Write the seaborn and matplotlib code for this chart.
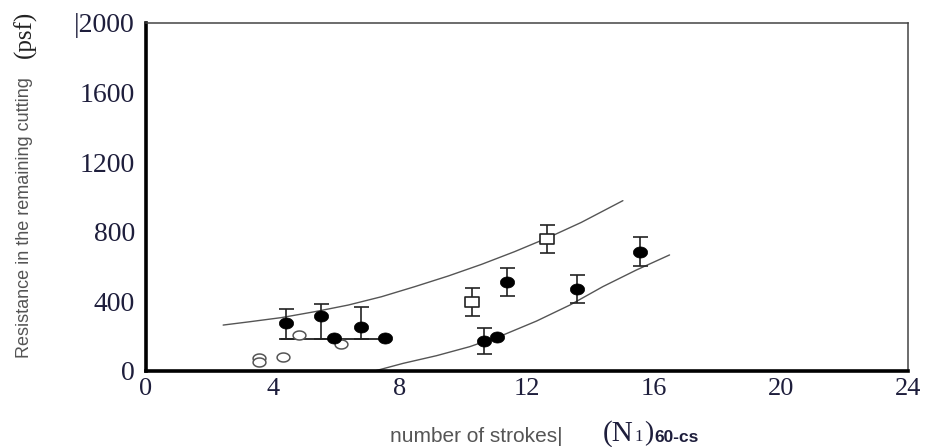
import numpy as np
import pandas as pd
import matplotlib
matplotlib.use("Agg")
import matplotlib.pyplot as plt
from matplotlib.path import Path
import seaborn as sns

# Filled circles with scatter bars
solid_x = [4.41, 5.51, 5.92, 6.77, 7.52, 10.64, 11.07, 11.36, 13.59, 15.55]
solid_y = [276, 316, 190, 253, 190, 172, 197, 513, 471, 686]
solid_lo = [184, 184, np.nan, 184, np.nan, 98, np.nan, 433, 391, 605]
solid_hi = [356, 387, np.nan, 368, np.nan, 249, np.nan, 592, 552, 768]

# Open squares with scatter bars
square_x = [10.28, 12.63]
square_y = [395, 757]
square_lo = [316, 680]
square_hi = [479, 841]

# Open circles
open_x = [3.56, 3.56, 4.32, 4.82, 6.14]
open_y = [77, 50, 82, 207, 155]

# Baseline joining the lower ends of the first bars
base_x = [4.25, 7.5]
base_y = [184, 184]

# Bounding curves
upper_x = [2.43, 3.22, 4.27, 5.32, 6.37, 7.42, 8.47, 9.52, 10.57, 11.61,
           12.66, 13.71, 15.02]
upper_y = [264, 282, 307, 341, 379, 427, 485, 546, 613, 686, 766, 854, 979]
lower_x = [7.2, 8.10, 9.15, 10.20, 11.25, 12.30, 13.35, 14.39, 15.44, 16.49]
lower_y = [0, 44, 88, 140, 207, 287, 379, 485, 580, 667]

x_ticks = [0, 4, 8, 12, 16, 20, 24]
y_ticks = [0, 400, 800, 1200, 1600, 2000]
y_ticklabels = ["0", "400", "800", "1200", "1600", "|2000"]


def ellipse_marker(ratio):
    t = np.linspace(0, 2 * np.pi, 64)
    verts = np.column_stack([np.cos(t), ratio * np.sin(t)])
    return Path(verts, closed=True)


def rect_marker(ratio):
    verts = [(-1, -ratio), (1, -ratio), (1, ratio), (-1, ratio), (-1, -ratio)]
    codes = [Path.MOVETO, Path.LINETO, Path.LINETO, Path.LINETO, Path.CLOSEPOLY]
    return Path(verts, codes)


sns.set_theme(style="white")
plt.rcParams["font.family"] = ["Liberation Serif", "DejaVu Serif"]

fig = plt.figure(figsize=(9.38, 4.47), dpi=100)
ax = fig.add_axes([146 / 938, 76 / 447, 762 / 938, 348 / 447])

curve_color = "#555555"
up = pd.DataFrame({"x": upper_x, "y": upper_y})
lo = pd.DataFrame({"x": lower_x, "y": lower_y})
sns.lineplot(data=up, x="x", y="y", ax=ax, color=curve_color, lw=1.0,
             sort=False, estimator=None, zorder=2)
sns.lineplot(data=lo, x="x", y="y", ax=ax, color=curve_color, lw=1.0,
             sort=False, estimator=None, zorder=2)
ax.plot(base_x, base_y, color="#222222", lw=1.3, zorder=3)

# Scatter bars
sy = np.array(solid_y, float)
slo = np.array(solid_lo, float)
shi = np.array(solid_hi, float)
m = ~np.isnan(slo)
ax.errorbar(np.array(solid_x)[m], sy[m], yerr=[sy[m] - slo[m], shi[m] - sy[m]],
            fmt="none", ecolor="#222222", elinewidth=1.2, capsize=5.4,
            capthick=1.2, zorder=3)
qy = np.array(square_y, float)
ax.errorbar(square_x, qy, yerr=[qy - np.array(square_lo), np.array(square_hi) - qy],
            fmt="none", ecolor="#222222", elinewidth=1.2, capsize=5.4,
            capthick=1.2, zorder=3)

sns.scatterplot(x=open_x, y=open_y, ax=ax, marker=ellipse_marker(0.7), s=85,
                facecolor="white", edgecolor="#555555", linewidth=1.1, zorder=4)
sns.scatterplot(x=square_x, y=square_y, ax=ax, marker=rect_marker(0.67), s=110,
                facecolor="white", edgecolor="#222222", linewidth=1.2, zorder=5)
sns.scatterplot(x=solid_x, y=solid_y, ax=ax, marker=ellipse_marker(0.78), s=105,
                color="black", edgecolor="black", linewidth=0.5, zorder=5)

ax.set_xlim(0, 24)
ax.set_ylim(0, 2000)
ax.set_xticks(x_ticks)
ax.set_yticks(y_ticks)
ax.set_yticklabels(y_ticklabels)
ax.set_xlabel("")
ax.set_ylabel("")
tick_color = "#1e1e3c"
ax.tick_params(axis="both", length=0, labelcolor=tick_color)
ax.tick_params(axis="x", pad=5, labelsize=19)
ax.tick_params(axis="y", pad=8, labelsize=20)

for side in ["left", "bottom"]:
    ax.spines[side].set_color("black")
    ax.spines[side].set_linewidth(2.6)
for side in ["top", "right"]:
    ax.spines[side].set_color("#444444")
    ax.spines[side].set_linewidth(1.1)

# Axis titles
fig.text(25 / 938, 1 - 218 / 447, "Resistance in the remaining cutting",
         rotation=90, ha="center", va="center", fontsize=13,
         color="#555555", family=["Liberation Sans", "DejaVu Sans"])
fig.text(25 / 938, 1 - 34 / 447, "(psf)", rotation=90, ha="center",
         va="center", fontsize=18, color="#222222")

fig.text(390 / 938, 1 - 436 / 447, "number of strokes|", ha="left",
         va="center", fontsize=15, color="#555555",
         family=["Liberation Sans", "DejaVu Sans"])
fig.text(603 / 938, 1 - 434 / 447, "(N", ha="left", va="center",
         fontsize=21, color="#1e1e3c")
fig.text(634 / 938, 1 - 437 / 447, "1", ha="left", va="center",
         fontsize=12, color="#1e1e3c")
fig.text(644 / 938, 1 - 434 / 447, ")", ha="left", va="center",
         fontsize=20, color="#1e1e3c")
fig.text(654 / 938, 1 - 437 / 447, "60-cs", ha="left", va="center",
         fontsize=12.5, color="#1e1e3c", fontweight="bold",
         family=["Liberation Sans", "DejaVu Sans"])

fig.savefig("out.png", dpi=100)
